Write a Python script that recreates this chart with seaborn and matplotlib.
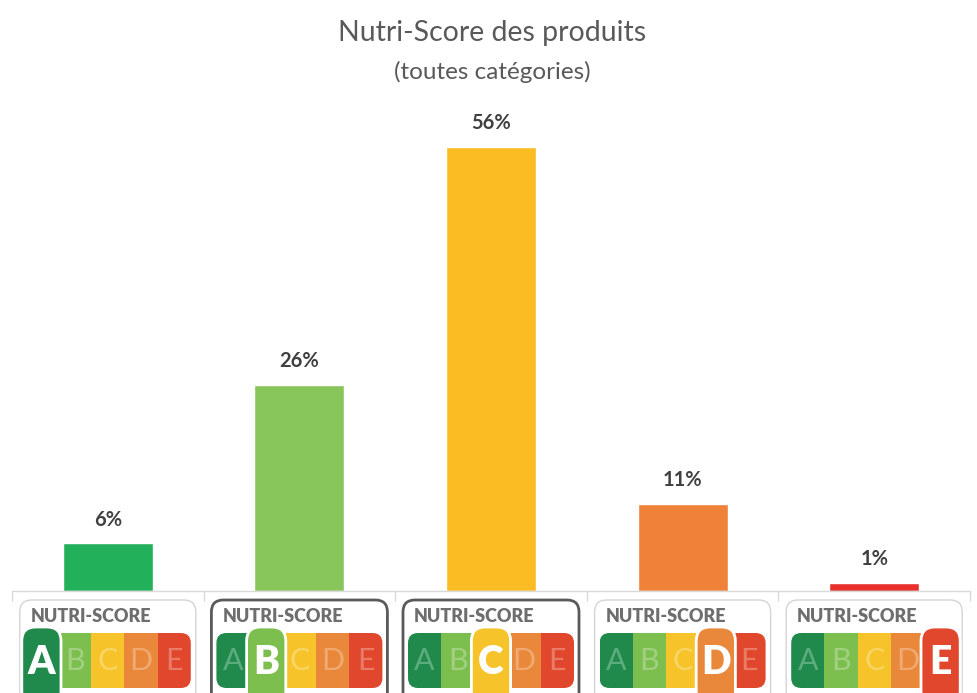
import matplotlib
matplotlib.use("Agg")
import matplotlib.pyplot as plt
import matplotlib.colors as mc
import seaborn as sns
import pandas as pd
from matplotlib.patches import FancyBboxPatch, Rectangle

# ---- data ----
grades = ["A", "B", "C", "D", "E"]
shares = [6, 26, 56, 11, 1]
labels = ["6%", "26%", "56%", "11%", "1%"]
bar_colors = ["#22b15a", "#88c55b", "#fbbb23", "#f08139", "#e8302c"]
logo_colors = ["#1f8a4c", "#7dbf4f", "#f6c42a", "#e9883a", "#e0472c"]
logo_borders = ["#d4d4d4", "#5a5a5a", "#5a5a5a", "#d4d4d4", "#d4d4d4"]

sns.set_theme(style="white")
plt.rcParams["font.family"] = ["Lato", "DejaVu Sans"]

W, H = 977, 693
fig = plt.figure(figsize=(W / 100, H / 100), dpi=100)

# main axes: x 12..970 px, y baseline at 591 px, top at 100 px
left, right = 12, 970
base, top = 591, 100
ax = fig.add_axes([left / W, (H - base) / H, (right - left) / W, (base - top) / H])

df = pd.DataFrame({"grade": grades, "share": shares})
sns.barplot(data=df, x="grade", y="share", hue="grade", palette=bar_colors,
            legend=False, width=0.47, ax=ax, saturation=1)
ax.set_xlim(-0.5, 4.5)
ax.set_ylim(0, (base - top) / 7.93)
ax.set_xlabel("")
ax.set_ylabel("")
ax.set_yticks([])
ax.set_xticks([])
ax.set_xticks([i - 0.5 for i in range(len(grades) + 1)], minor=True)
ax.tick_params(axis="x", which="minor", length=7, width=1, color="#d9d9d9",
               direction="out", bottom=True, labelbottom=False)
for s in ["top", "right", "left"]:
    ax.spines[s].set_visible(False)
ax.spines["bottom"].set_color("#d9d9d9")
ax.spines["bottom"].set_linewidth(1)

for i, (v, lab) in enumerate(zip(shares, labels)):
    ax.annotate(lab, (i, v), xytext=(0, 10), textcoords="offset points",
                ha="center", va="bottom", fontsize=14.5, fontweight="bold",
                color="#404040")

fig.text(492 / W, 1 - 33 / H, "Nutri-Score des produits", ha="center",
         va="center", fontsize=20.5, color="#595959")
fig.text(492 / W, 1 - 72 / H, "(toutes catégories)", ha="center",
         va="center", fontsize=17.5, color="#595959")

# ---- Nutri-Score logos below axis ----
lax = fig.add_axes([0, 0, 1, 95 / H])
lax.set_xlim(0, W)
lax.set_ylim(0, 95)
lax.axis("off")

def lighten(c, f):
    r, g, b = mc.to_rgb(c)
    return (r + (1 - r) * f, g + (1 - g) * f, b + (1 - b) * f)

step = (right - left) / len(grades)
bw = 176
for i, g in enumerate(grades):
    cx = left + (i + 0.5) * step
    x0 = cx - bw / 2
    box = FancyBboxPatch((x0, -20), bw, 113, boxstyle="round,pad=0,rounding_size=12",
                         facecolor="white", edgecolor=logo_borders[i],
                         linewidth=2 if logo_borders[i] == "#5a5a5a" else 1,
                         clip_on=False, zorder=1)
    lax.add_patch(box)
    lax.text(x0 + 11, 76, "NUTRI-SCORE", ha="left", va="center", fontsize=13,
             fontweight="heavy", color="#6e6e6e", zorder=2,
             family=["Lato", "DejaVu Sans"])
    bx0, bx1 = x0 + 5, x0 + bw - 5
    seg = (bx1 - bx0) / 5
    clip = FancyBboxPatch((bx0, 5), bx1 - bx0, 55,
                          boxstyle="round,pad=0,rounding_size=10",
                          facecolor="none", edgecolor="none", zorder=2)
    lax.add_patch(clip)
    for j, gg in enumerate(grades):
        r = Rectangle((bx0 + j * seg, 5), seg + 0.5, 55, facecolor=logo_colors[j],
                      edgecolor="none", zorder=2)
        lax.add_patch(r)
        r.set_clip_path(clip)
        if j != i:
            lax.text(bx0 + (j + 0.5) * seg, 32, gg, ha="center", va="center",
                     fontsize=22, color=lighten(logo_colors[j], 0.28), zorder=3)
    # highlighted grade
    hx = bx0 + i * seg - 3
    hl = FancyBboxPatch((hx, -12), seg + 6, 78,
                        boxstyle="round,pad=0,rounding_size=14",
                        facecolor=logo_colors[i], edgecolor="white", linewidth=2,
                        zorder=4, clip_on=False)
    lax.add_patch(hl)
    lax.text(hx + (seg + 6) / 2, 31, g, ha="center", va="center", fontsize=28,
             fontweight="heavy", color="white", zorder=5)

fig.savefig("out.png", dpi=100, facecolor="white")
